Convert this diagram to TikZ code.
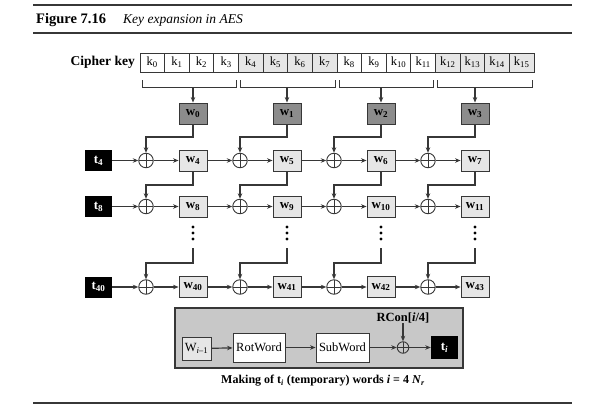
\documentclass[tikz,border=0pt]{standalone}
\usepackage{fontspec}
\setmainfont{Liberation Serif}
\usetikzlibrary{arrows.meta}
\definecolor{lcol}{RGB}{55,55,55}
\definecolor{dgray}{RGB}{140,140,140}
\definecolor{lgray}{RGB}{230,230,230}
\definecolor{pgray}{RGB}{200,200,200}
\begin{document}
\begin{tikzpicture}[x=1pt,y=-1pt,
  kcell/.style={draw=lcol, line width=0.9pt, minimum width=24.6pt, minimum height=19pt, inner sep=0pt, font=\fontsize{12.5}{14}\selectfont},
  wbox/.style={draw=lcol, fill=lgray, line width=0.9pt, minimum width=28pt, minimum height=21pt, inner sep=0pt, font=\bfseries\fontsize{13}{15}\selectfont},
  wtop/.style={wbox, fill=dgray},
  tbox/.style={fill=black, text=white, minimum width=27pt, minimum height=21pt, inner sep=0pt, font=\bfseries\fontsize{13}{15}\selectfont},
  xor/.style={circle, draw=lcol, line width=0.9pt, minimum size=14.5pt, inner sep=0pt,
    path picture={\draw[lcol, line width=0.9pt] (path picture bounding box.north) -- (path picture bounding box.south) (path picture bounding box.east) -- (path picture bounding box.west);}},
  sxor/.style={xor, minimum size=11.5pt},
  conn/.style={draw=lcol, line width=1.2pt, -{Stealth[length=5.5pt,width=4.5pt]}},
  plain/.style={draw=lcol, line width=1pt},
  rulestyle/.style={draw=lcol, line width=1.2pt},
  pbox/.style={draw=lcol, line width=0.9pt, fill=white, minimum height=29pt, inner sep=0pt, font=\fontsize{12.5}{14}\selectfont},
  dotstyle/.style={fill=black, circle, inner sep=0pt, minimum size=3.2pt}
]
\useasboundingbox (0,0) rectangle (611,410);

% rules and title
\coordinate (r1a) at (33,5);  \coordinate (r1b) at (572,5);
\coordinate (r2a) at (33,33); \coordinate (r2b) at (572,33);
\coordinate (r3a) at (33,403); \coordinate (r3b) at (572,403);
\draw[rulestyle] (r1a) -- (r1b);
\draw[rulestyle] (r2a) -- (r2b);
\draw[rulestyle] (r3a) -- (r3b);
\node[anchor=base west, inner sep=0pt, font=\bfseries\fontsize{14.5}{16}\selectfont] (fig) at (36,23) {Figure 7.16};
\node[anchor=base west, inner sep=0pt, font=\itshape\fontsize{13.5}{16}\selectfont] (title) at (123,23) {Key expansion in AES};

% cipher key
\node[anchor=east, inner sep=0pt, font=\bfseries\fontsize{13.5}{15}\selectfont] (ck) at (135,62.5) {Cipher key};
\foreach \i in {0,...,15}{
  \pgfmathtruncatemacro\g{mod(int(\i/4),2)}
  \ifnum\g=1 \def\fc{lgray}\else\def\fc{white}\fi
  \node[kcell, fill=\fc] (k\i) at ({152.3+24.625*\i},62.5) {k\textsubscript{\i}};
}

% brackets and top words
\foreach \g in {0,...,3}{
  \pgfmathsetmacro\bl{140+98.5*\g+2}
  \pgfmathsetmacro\br{140+98.5*(\g+1)-2}
  \pgfmathsetmacro\cx{193+94*\g}
  \draw[plain] (\bl,80) -- (\bl,87) -- (\br,87) -- (\br,80);
  \coordinate (b\g) at (\cx,87);
  \node[wtop] (wt\g) at (\cx,113.5) {w\textsubscript{\g}};
  \draw[conn] (b\g) -- (wt\g.north);
}

% t nodes
\node[tbox] (t4) at (98.5,160.5) {t\textsubscript{4}};
\node[tbox] (t8) at (98.5,206.5) {t\textsubscript{8}};
\node[tbox] (t40) at (98.5,287) {t\textsubscript{40}};

% rows of xors and words
\foreach \c/\a/\b/\d in {0/4/8/40,1/5/9/41,2/6/10/42,3/7/11/43}{
  \pgfmathsetmacro\cx{193+94*\c}
  \pgfmathsetmacro\xx{146+94*\c}
  \node[xor] (xa\c) at (\xx,160.5) {};
  \node[wbox] (wa\c) at (\cx,160.5) {w\textsubscript{\a}};
  \node[xor] (xb\c) at (\xx,206.5) {};
  \node[wbox] (wb\c) at (\cx,206.5) {w\textsubscript{\b}};
  \node[xor] (xd\c) at (\xx,287) {};
  \node[wbox] (wd\c) at (\cx,287) {w\textsubscript{\d}};
  \node[dotstyle] (da\c) at (\cx,227) {};
  \node[dotstyle] (db\c) at (\cx,233) {};
  \node[dotstyle] (dc\c) at (\cx,239) {};
  \coordinate (dd\c) at (\cx,248);
  \draw[conn] (xa\c) -- (wa\c);
  \draw[conn] (xb\c) -- (wb\c);
  \draw[conn] (xd\c) -- (wd\c);
  \draw[conn] (wt\c.south) -- (wt\c.south |- 0,137) -| (xa\c.north);
  \draw[conn] (wa\c.south) -- (wa\c.south |- 0,185) -| (xb\c.north);
  \draw[conn] (dd\c) -- (dd\c |- 0,263) -| (xd\c.north);
}
\draw[conn] (t4) -- (xa0);
\draw[conn] (t8) -- (xb0);
\draw[conn] (t40) -- (xd0);
\foreach \c/\n in {0/1,1/2,2/3}{
  \draw[conn] (wa\c) -- (xa\n);
  \draw[conn] (wb\c) -- (xb\n);
  \draw[conn] (wd\c) -- (xd\n);
}

% panel
\node[draw=lcol, fill=pgray, line width=1.4pt, minimum width=288pt, minimum height=60pt, inner sep=0pt] (panel) at (319,338) {};
\node[wbox, font=\fontsize{12.5}{14}\selectfont, minimum width=29pt, minimum height=23pt] (wm) at (196.5,348.5) {W\textsubscript{\textit{i}–1}};
\node[pbox, minimum width=52pt] (rot) at (259,347.5) {RotWord};
\node[pbox, minimum width=53pt] (sub) at (342.5,347.5) {SubWord};
\node[sxor] (px) at (403,347.5) {};
\node[tbox, minimum width=27pt, minimum height=23pt] (ti) at (444.5,347.5) {t\textsubscript{\textit{i}}};
\node[inner sep=0pt, font=\bfseries\fontsize{12.5}{14}\selectfont] (rc) at (403,318) {RCon[\textit{i}/4]};
\draw[conn] (wm) -- (rot);
\draw[conn] (rot) -- (sub);
\draw[conn] (sub) -- (px);
\draw[conn] (px) -- (ti);
\draw[conn] (rc.south) -- (px.north);
\node[inner sep=0pt, font=\bfseries\fontsize{12}{14}\selectfont] (cap) at (323,381) {Making of t\textsubscript{\textit{i}} (temporary) words \textit{i} = 4 \textit{N}\textsubscript{\textit{r}}};
\end{tikzpicture}
\end{document}
